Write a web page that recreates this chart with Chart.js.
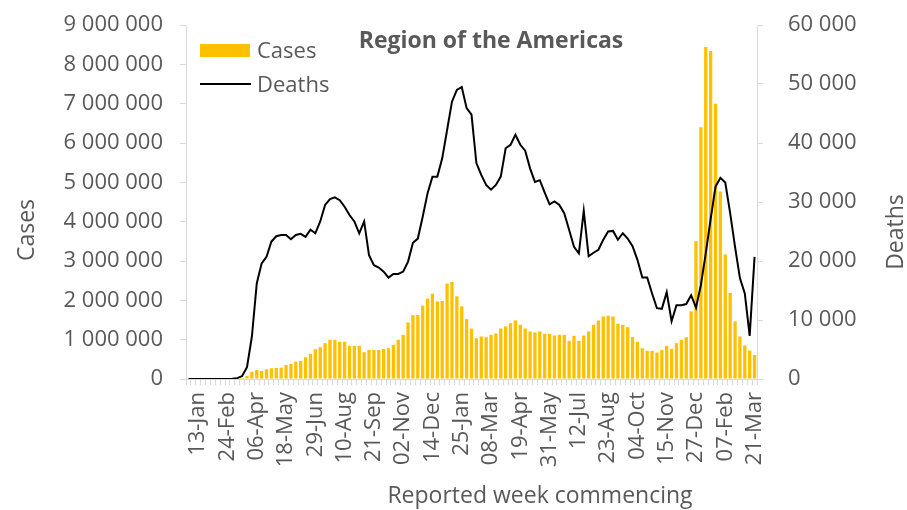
<!DOCTYPE html>
<html>
<head>
<meta charset="utf-8">
<script src="https://cdn.jsdelivr.net/npm/chart.js@4.4.1/dist/chart.umd.min.js"></script>
<style>
html,body{margin:0;padding:0;background:#ffffff;}
#wrap{width:907px;height:510px;position:relative;}
</style>
</head>
<body>
<div id="wrap"><canvas id="c" width="907" height="510"></canvas></div>
<script>
// ---- DATA ----
const categories = [
 '30-Dec',
 '06-Jan','13-Jan','20-Jan','27-Jan','03-Feb','10-Feb','17-Feb','24-Feb','02-Mar','09-Mar','16-Mar','23-Mar','30-Mar',
 '06-Apr','13-Apr','20-Apr','27-Apr','04-May','11-May','18-May','25-May','01-Jun','08-Jun','15-Jun','22-Jun','29-Jun',
 '06-Jul','13-Jul','20-Jul','27-Jul','03-Aug','10-Aug','17-Aug','24-Aug','31-Aug','07-Sep','14-Sep','21-Sep','28-Sep',
 '05-Oct','12-Oct','19-Oct','26-Oct','02-Nov','09-Nov','16-Nov','23-Nov','30-Nov','07-Dec','14-Dec','21-Dec','28-Dec',
 '04-Jan','11-Jan','18-Jan','25-Jan','01-Feb','08-Feb','15-Feb','22-Feb','01-Mar','08-Mar','15-Mar','22-Mar','29-Mar',
 '05-Apr','12-Apr','19-Apr','26-Apr','03-May','10-May','17-May','24-May','31-May','07-Jun','14-Jun','21-Jun','28-Jun',
 '05-Jul','12-Jul','19-Jul','26-Jul','02-Aug','09-Aug','16-Aug','23-Aug','30-Aug','06-Sep','13-Sep','20-Sep','27-Sep',
 '04-Oct','11-Oct','18-Oct','25-Oct','01-Nov','08-Nov','15-Nov','22-Nov','29-Nov','06-Dec','13-Dec','20-Dec','27-Dec',
 '03-Jan','10-Jan','17-Jan','24-Jan','31-Jan','07-Feb','14-Feb','21-Feb','28-Feb','07-Mar','14-Mar','21-Mar'
];

const cases = [
 0,0,0,0,0,0,0,0,100,1000,5000,30000,
 77000,187000,230000,204000,247000,272000,281000,289000,357000,383000,
 443000,460000,553000,638000,757000,809000,911000,996000,996000,945000,
 945000,843000,843000,843000,681000,740000,740000,740000,766000,783000,
 868000,996000,1123000,1438000,1626000,1626000,1864000,2043000,2170000,1974000,
 1983000,2426000,2468000,2102000,1847000,1523000,1277000,
 1038000,1081000,1064000,1123000,1157000,1285000,1336000,1421000,1489000,1379000,
 1285000,1209000,1183000,1209000,1149000,1149000,1106000,1123000,1123000,970000,
 1098000,970000,1106000,1209000,1379000,1489000,1591000,1609000,1591000,1404000,
 1379000,1319000,1064000,945000,783000,715000,715000,672000,740000,843000,
 766000,911000,996000,1064000,1719000,3506000,6400000,8443000,8340000,6996000,
 4766000,3166000,2187000,1464000,1081000,851000,723000,613000
];

const deaths = [
 0,0,0,0,0,0,0,0,0,30,150,500,
 2000,7200,16200,19600,20700,23300,24200,24400,24400,23700,
 24400,24600,24100,25300,24700,26700,29500,30500,30800,30300,
 29200,27800,26700,24700,26700,21000,19300,18900,18200,17200,
 17800,17800,18200,19900,23100,23800,27500,31500,34300,34300,
 37400,42200,47000,49000,49500,45900,44800,
 36600,34600,32900,32100,32900,34300,39100,39700,41400,39700,
 38700,35700,33400,33700,31600,29600,30100,29500,28100,25300,
 22400,21300,28500,20800,21400,21900,23600,25000,25100,23600,
 24700,23800,22500,20200,17200,17200,14500,12000,11900,14700,
 9800,12500,12500,12700,14200,12100,15900,21300,27100,32600,
 34100,33300,28100,22400,17100,14500,7300,20700
];

const casesTicks = {min: 0, max: 9000000, step: 1000000};
const deathsTicks = {min: 0, max: 60000, step: 10000};
const labelStart = 2;   // first labelled category (13-Jan)
const labelEvery = 6;   // one label every 6 weeks

const chartTitle = 'Region of the Americas';
const xTitle = 'Reported week commencing';
const yTitle = 'Cases';
const y1Title = 'Deaths';

// ---- STYLE ----
const FONT = '"Open Sans", "Noto Sans", sans-serif';
const TEXT = '#595959';
const AXIS = '#d9d9d9';
const GOLD = '#FFC000';

function fmt(v){ return String(Math.round(v)).replace(/\B(?=(\d{3})+(?!\d))/g, ' '); }

const textPlugin = {
  id: 'texts',
  afterDraw(chart){
    const ctx = chart.ctx, a = chart.chartArea;
    ctx.save();
    ctx.fillStyle = TEXT;
    // title
    ctx.font = 'bold 23px ' + FONT;
    ctx.textAlign = 'center';
    ctx.textBaseline = 'middle';
    ctx.fillText(chartTitle, a.left + 305, a.top + 16);
    // legend
    const ds = chart.data.datasets;
    ctx.font = '22px ' + FONT;
    ctx.textAlign = 'left';
    const lx = a.left + 14;
    ctx.fillStyle = ds[1].backgroundColor;
    ctx.fillRect(lx, a.top + 19, 50, 13);
    ctx.fillStyle = TEXT;
    ctx.fillText(ds[1].label, lx + 57, a.top + 27);
    ctx.strokeStyle = ds[0].borderColor;
    ctx.lineWidth = 2;
    ctx.beginPath();
    ctx.moveTo(lx, a.top + 59);
    ctx.lineTo(lx + 51, a.top + 59);
    ctx.stroke();
    ctx.fillText(ds[0].label, lx + 57, a.top + 61);
    // axis titles
    ctx.font = '23px ' + FONT;
    ctx.textAlign = 'center';
    ctx.save();
    ctx.translate(27, a.top + 205);
    ctx.rotate(-Math.PI/2);
    ctx.fillText(yTitle, 0, 0);
    ctx.restore();
    ctx.save();
    ctx.translate(896, a.top + 207);
    ctx.rotate(-Math.PI/2);
    ctx.fillText(y1Title, 0, 0);
    ctx.restore();
    ctx.fillText(xTitle, a.left + 354, 496);
    ctx.restore();
  }
};

new Chart(document.getElementById('c'), {
  data: {
    labels: categories,
    datasets: [
      {
        type: 'line', label: 'Deaths', data: deaths, yAxisID: 'y1',
        borderColor: '#000000', backgroundColor: '#000000', borderWidth: 2,
        pointRadius: 0, tension: 0, order: 0
      },
      {
        type: 'bar', label: 'Cases', data: cases, yAxisID: 'y',
        backgroundColor: GOLD, borderWidth: 0,
        categoryPercentage: 1.0, barPercentage: 0.68, order: 1
      }
    ]
  },
  options: {
    responsive: false,
    animation: false,
    devicePixelRatio: 1,
    layout: { padding: { top: 25, left: 0, right: 0, bottom: 0 } },
    plugins: { legend: { display: false }, title: { display: false }, tooltip: { enabled: false } },
    scales: {
      x: {
        type: 'category',
        offset: true,
        grid: { drawOnChartArea: false, drawTicks: true, tickLength: 6, color: AXIS, offset: true },
        border: { display: true, color: AXIS, width: 1 },
        ticks: {
          autoSkip: false, maxRotation: 90, minRotation: 90, padding: 7,
          color: TEXT, font: { family: FONT, size: 22 },
          callback: function(v, i){ return ((i - labelStart) % labelEvery === 0 && i >= labelStart) ? this.getLabelForValue(v) : ''; }
        },
        afterFit: (s) => { s.height = 131; s.paddingLeft = 0; s.paddingRight = 0; }
      },
      y: {
        position: 'left',
        min: casesTicks.min, max: casesTicks.max,
        grid: { drawOnChartArea: false, drawTicks: true, tickLength: 6, color: AXIS },
        border: { display: true, color: AXIS, width: 1 },
        ticks: { stepSize: casesTicks.step, padding: 17, color: TEXT, font: { family: FONT, size: 22 }, callback: (v) => fmt(v) },
        afterFit: (s) => { s.width = 186; s.paddingTop = 0; s.paddingBottom = 0; }
      },
      y1: {
        position: 'right',
        min: deathsTicks.min, max: deathsTicks.max,
        grid: { drawOnChartArea: false, drawTicks: true, tickLength: 6, color: AXIS },
        border: { display: true, color: AXIS, width: 1 },
        ticks: { stepSize: deathsTicks.step, padding: 25, color: TEXT, font: { family: FONT, size: 22 }, callback: (v) => fmt(v) },
        afterFit: (s) => { s.width = 150; s.paddingTop = 0; s.paddingBottom = 0; }
      }
    }
  },
  plugins: [textPlugin]
});
</script>
</body>
</html>
